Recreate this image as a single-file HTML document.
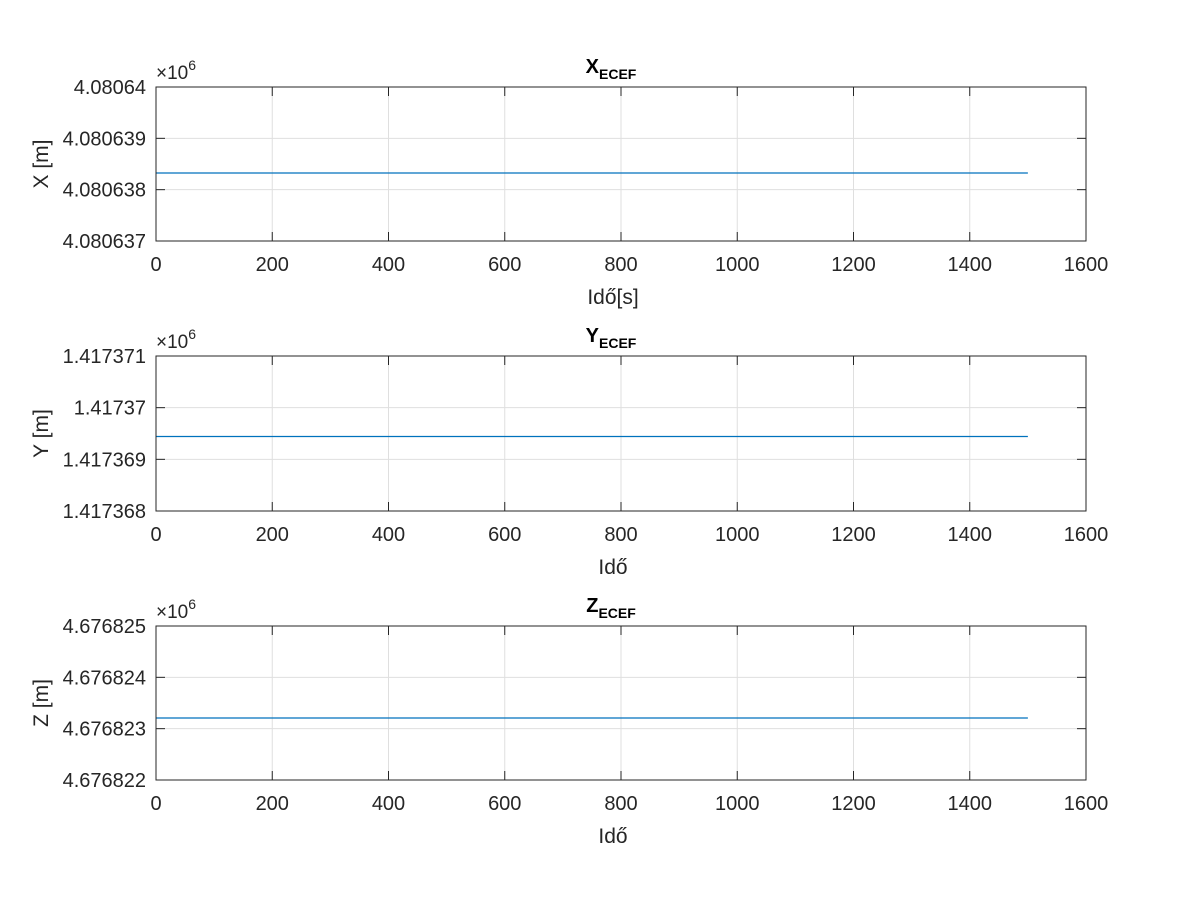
<!DOCTYPE html>
<html><head><meta charset="utf-8"><style>
body{margin:0;background:#fff}
svg{display:block;font-family:"Liberation Sans",Arial,sans-serif}
</style></head><body>
<svg id="fig" width="1200" height="900" xmlns="http://www.w3.org/2000/svg"></svg>
<script>
// shared x data
const timeValues = [0, 1500];
const xTicks = [0, 200, 400, 600, 800, 1000, 1200, 1400, 1600];
// subplot X
const xEcefValues = [4.0806383247, 4.0806383247];
const xEcefTicks = [4.080637, 4.080638, 4.080639, 4.080640];
const xEcefTickLabels = ["4.080637", "4.080638", "4.080639", "4.08064"];
// subplot Y
const yEcefValues = [1.4173694423, 1.4173694423];
const yEcefTicks = [1.417368, 1.417369, 1.417370, 1.417371];
const yEcefTickLabels = ["1.417368", "1.417369", "1.41737", "1.417371"];
// subplot Z
const zEcefValues = [4.676823208, 4.676823208];
const zEcefTicks = [4.676822, 4.676823, 4.676824, 4.676825];
const zEcefTickLabels = ["4.676822", "4.676823", "4.676824", "4.676825"];

const svg = document.getElementById('fig');
const NS = 'http://www.w3.org/2000/svg';
function mk(tag, attrs, parent, text){
  const e = document.createElementNS(NS, tag);
  for (const k in attrs) e.setAttribute(k, attrs[k]);
  if (text !== undefined) e.textContent = text;
  parent.appendChild(e);
  return e;
}
const L = 156, R = 1086;
const panels = [
  {key:'x', top:87, bot:241, vals:xEcefValues, ticks:xEcefTicks, labels:xEcefTickLabels, title:'X', ylab:'X [m]', xlab:'Idő[s]'},
  {key:'y', top:356, bot:511, vals:yEcefValues, ticks:yEcefTicks, labels:yEcefTickLabels, title:'Y', ylab:'Y [m]', xlab:'Idő'},
  {key:'z', top:626, bot:780, vals:zEcefValues, ticks:zEcefTicks, labels:zEcefTickLabels, title:'Z', ylab:'Z [m]', xlab:'Idő'}
];
panels.forEach(p => {
  const g = mk('g', {}, svg);
  
  
  const xmin = xTicks[0], xmax = xTicks[xTicks.length-1];
  const ymin = p.ticks[0], ymax = p.ticks[p.ticks.length-1];
  const sx = v => L + (v - xmin) / (xmax - xmin) * (R - L);
  const sy = v => p.bot - (v - ymin) / (ymax - ymin) * (p.bot - p.top);
  mk('rect', {x:L, y:p.top, width:R-L, height:p.bot-p.top, fill:'#fff'}, g);
  xTicks.forEach(t => {
    const x = sx(t);
    const gl = mk('line', {x1:x, x2:x, y1:p.top, y2:p.bot, stroke:'#dfdfdf', 'stroke-width':1}, g);
    
    
    mk('line', {x1:x, x2:x, y1:p.bot, y2:p.bot-9, stroke:'#262626'}, g);
    mk('line', {x1:x, x2:x, y1:p.top, y2:p.top+9, stroke:'#262626'}, g);
    const tl = mk('text', {x:x, y:p.bot+30, 'font-size':20, fill:'#262626', 'text-anchor':'middle'}, g, String(t));
    
    
  });
  p.ticks.forEach((t, i) => {
    const y = sy(t);
    const gl = mk('line', {x1:L, x2:R, y1:y, y2:y, stroke:'#dfdfdf', 'stroke-width':1}, g);
    
    
    mk('line', {x1:L, x2:L+9, y1:y, y2:y, stroke:'#262626'}, g);
    mk('line', {x1:R, x2:R-9, y1:y, y2:y, stroke:'#262626'}, g);
    const tl = mk('text', {x:L-10, y:y+7, 'font-size':20, fill:'#262626', 'text-anchor':'end'}, g, p.labels[i]);
    
    
  });
  const pts = timeValues.map((t, i) => sx(t) + ',' + sy(p.vals[i])).join(' ');
  const line = mk('polyline', {points:pts, fill:'none', stroke:'#0072bd', 'stroke-width':1.2}, g);
  
  
  const box = mk('rect', {x:L, y:p.top, width:R-L, height:p.bot-p.top, fill:'none', stroke:'#262626', 'stroke-width':1}, g);
  
  
  const ex = mk('text', {x:L, y:p.top-8, 'font-size':19, fill:'#262626'}, g);
  
  
  mk('tspan', {}, ex, '×10');
  mk('tspan', {dy:-9, 'font-size':14}, ex, '6');
  const ti = mk('text', {x:(L+R)/2 - 10, y:p.top-14, 'font-size':20, 'font-weight':'bold', fill:'#000', 'text-anchor':'middle'}, g);
  
  
  mk('tspan', {}, ti, p.title);
  mk('tspan', {dy:6, 'font-size':14}, ti, 'ECEF');
  const yl = mk('text', {x:0, y:0, 'font-size':21, fill:'#262626', 'text-anchor':'middle', transform:'translate(48,' + ((p.top+p.bot)/2) + ') rotate(-90)'}, g, p.ylab);
  
  
  const xl = mk('text', {x:(L+R)/2 - 8, y:p.bot+63, 'font-size':21, fill:'#262626', 'text-anchor':'middle'}, g, p.xlab);
  
  
});
</script>
</body></html>
